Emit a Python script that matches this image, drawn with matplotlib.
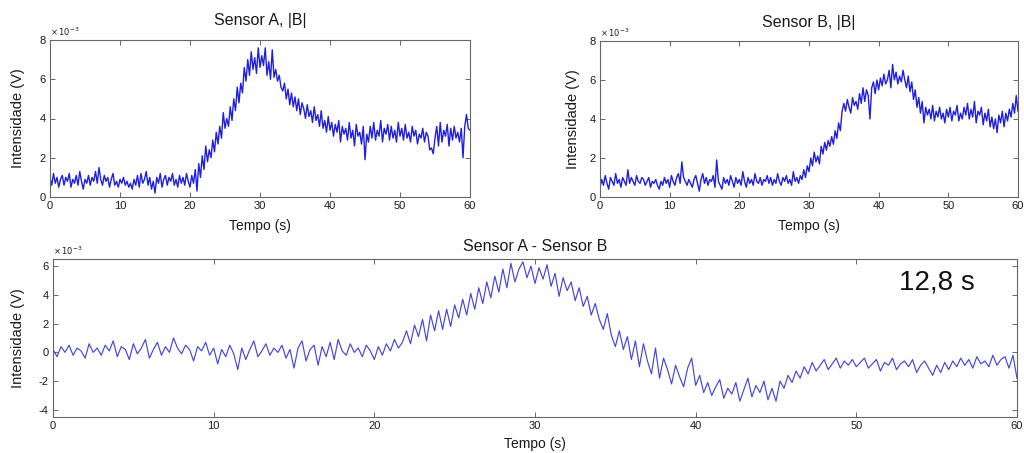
import numpy as np
import matplotlib
matplotlib.use("Agg")
import matplotlib.pyplot as plt

plt.rcParams['font.family'] = ['Liberation Sans', 'DejaVu Sans']
plt.rcParams['axes.unicode_minus'] = False

# time axis (s), step 0.25 s
t = np.arange(0, 241) * 0.25

# Sensor A |B| (x 1e-3 V)
sensor_a = [
    1.0,0.6,1.2,0.7,1.0,0.5,0.9,1.1,0.6,1.0,0.8,1.2,0.5,0.9,0.7,1.1,0.6,1.3,0.8,0.4,
    0.9,0.7,1.1,0.6,1.0,0.8,1.3,0.7,1.5,0.9,0.6,1.1,0.8,1.0,0.5,0.9,1.2,0.6,0.8,0.5,
    0.9,0.7,1.0,0.6,0.8,0.5,0.7,0.4,0.9,0.6,1.1,0.5,1.2,0.7,0.9,1.3,0.6,1.0,0.4,0.8,
    0.2,1.0,0.7,1.2,0.5,0.9,1.1,0.6,1.0,0.8,1.2,0.6,0.9,0.5,1.1,0.7,1.0,0.6,1.2,0.8,
    0.5,1.1,0.7,1.4,0.3,1.7,1.0,2.1,1.4,2.6,1.8,2.4,2.0,2.9,2.3,3.3,2.7,3.6,3.0,4.3,
    3.5,4.0,3.6,4.6,3.9,5.0,4.4,5.6,4.8,5.8,5.3,6.6,5.9,7.0,6.2,7.4,6.5,7.1,6.3,7.6,
    6.6,7.2,6.7,7.6,6.2,6.9,6.0,7.5,6.1,6.5,5.9,6.2,5.6,5.4,5.8,5.0,5.5,4.7,5.3,4.6,
    5.1,4.4,5.0,4.2,4.8,4.5,4.0,4.7,4.1,4.4,3.8,4.6,3.9,4.2,3.6,4.4,3.5,3.9,3.3,4.1,
    3.4,3.8,3.1,3.7,3.3,3.9,2.8,3.6,3.2,3.5,2.9,3.8,3.0,3.4,2.6,3.7,3.1,3.3,2.7,3.6,
    1.9,3.2,2.8,3.6,3.0,3.8,2.9,3.4,3.1,3.9,2.8,3.5,3.2,3.7,2.9,3.6,3.0,3.4,2.8,3.8,
    3.1,3.5,2.9,3.7,3.0,3.3,2.8,3.6,3.1,3.4,2.7,3.2,3.0,3.5,2.8,3.3,3.1,2.4,2.5,2.2,
    3.0,3.6,2.6,3.8,2.8,3.4,3.1,3.7,2.6,3.5,2.9,3.6,3.0,3.3,2.8,3.5,2.0,3.6,4.2,3.5,
    3.4,
]

# Sensor B |B| (x 1e-3 V)
sensor_b = [
    0.5,0.9,0.6,1.1,0.7,0.4,1.0,0.8,0.6,1.2,0.7,0.9,0.5,1.0,0.8,0.6,1.4,0.7,1.0,0.8,
    0.6,1.1,0.8,0.7,1.0,0.9,0.6,0.8,1.0,0.5,0.8,0.7,0.9,0.6,0.4,0.8,0.6,1.0,0.7,0.9,
    0.5,1.1,0.8,0.6,1.0,1.2,0.7,1.8,1.0,0.8,0.6,0.9,0.7,0.5,0.9,1.1,0.7,0.3,0.9,1.2,
    0.7,1.0,0.6,0.9,0.8,1.1,0.5,1.9,0.8,0.6,0.4,1.0,0.7,0.9,0.6,1.1,0.8,0.5,1.0,0.7,
    0.9,0.6,1.3,0.8,0.5,1.0,0.7,0.9,0.6,1.2,0.8,0.7,1.0,0.6,0.9,0.8,1.1,0.7,1.0,0.6,
    0.9,0.7,1.2,0.8,0.6,1.0,0.8,1.1,0.7,0.9,0.6,1.3,0.8,1.0,0.7,1.1,0.9,1.4,1.0,1.6,
    1.3,2.0,1.6,2.3,1.8,2.1,1.7,2.6,2.2,2.8,2.4,2.9,2.6,3.1,2.7,3.4,3.0,3.8,3.4,4.4,
    4.8,4.4,5.0,4.6,4.3,5.1,4.7,4.9,4.5,5.3,4.8,5.6,4.9,5.5,5.2,4.0,5.6,5.9,5.3,6.0,
    5.5,6.1,5.7,6.3,5.8,6.0,6.5,5.6,6.8,6.0,6.4,5.8,6.2,5.9,6.5,6.0,5.6,6.2,5.4,5.9,
    5.0,5.5,4.6,5.1,4.3,4.9,3.8,4.6,4.2,4.5,4.0,4.7,3.9,4.4,4.1,4.6,4.0,4.3,3.8,4.5,
    4.1,4.6,3.9,4.4,4.2,4.7,3.9,4.3,4.0,4.6,4.2,4.8,4.0,4.5,4.1,4.9,3.8,4.4,4.2,4.6,
    3.7,4.3,3.9,4.5,3.6,4.1,3.5,4.0,3.3,4.2,3.8,4.4,3.6,4.3,3.9,4.5,4.1,4.8,4.3,5.2,
    4.4,
]

# Sensor A - Sensor B (x 1e-3 V)
diff_ab = [
    0.2,-0.3,0.4,0.0,0.5,-0.2,0.3,0.1,-0.4,0.6,0.0,0.3,-0.2,0.5,0.1,0.8,-0.3,0.4,0.2,-0.5,
    0.6,-0.1,0.3,0.9,-0.4,0.2,0.7,-0.2,0.4,0.0,1.0,0.3,-0.1,0.5,0.2,-0.6,0.4,0.1,0.7,-0.2,
    0.3,-0.8,0.2,-0.3,0.5,-0.1,-1.2,0.3,-0.5,0.2,0.8,-0.3,0.1,0.6,-0.2,0.3,0.0,0.5,-0.4,0.2,
    -1.1,0.3,0.8,-0.6,0.2,0.5,-0.9,0.4,-0.3,0.7,-0.5,0.9,0.1,-0.2,0.6,0.0,0.3,-0.3,0.5,0.1,
    -0.5,0.4,-0.2,0.6,0.1,0.9,0.3,0.7,1.5,0.6,1.9,1.1,2.3,0.8,2.6,1.5,2.9,1.6,3.0,1.8,
    3.3,2.4,3.7,2.6,4.1,3.0,4.5,3.4,4.9,3.8,5.3,4.2,5.8,4.5,6.2,4.9,5.8,6.3,5.2,6.0,
    4.8,5.9,5.1,6.1,4.6,5.5,3.9,5.2,4.3,4.9,3.6,4.5,3.2,3.9,2.6,3.4,2.3,1.6,2.7,1.2,
    0.4,1.5,0.2,1.1,-0.5,0.8,-1.0,0.6,-0.6,-1.5,0.3,-1.8,-0.4,-1.2,-2.2,-0.9,-1.7,-2.4,-1.1,-0.4,
    -2.3,-1.6,-2.8,-2.1,-3.0,-2.4,-1.9,-3.2,-2.5,-2.9,-2.1,-3.4,-2.6,-1.8,-3.1,-2.3,-2.8,-2.0,-3.3,-2.5,
    -3.4,-2.0,-2.5,-1.6,-2.1,-1.3,-1.8,-1.0,-1.5,-0.7,-1.3,-0.9,-0.5,-1.2,-0.8,-0.4,-1.1,-0.6,-0.9,-0.5,
    -1.0,-0.7,-0.4,-1.1,-0.8,-0.5,-1.3,-0.7,-0.9,-0.4,-1.2,-0.8,-0.6,-1.0,-0.5,-1.4,-0.9,-0.6,-1.1,-1.6,
    -0.9,-1.4,-0.7,-1.2,-0.6,-1.0,-0.4,-0.9,-0.5,-1.1,-0.3,-0.8,-0.6,-1.0,-0.2,-0.9,-0.5,-0.3,-1.1,-0.2,
    -1.8,
]

titles = ["Sensor A, |B|", "Sensor B, |B|", "Sensor A - Sensor B"]
xlabel = "Tempo (s)"
ylabel = "Intensidade (V)"
xticks = [0, 10, 20, 30, 40, 50, 60]
yticks_top = [0, 2, 4, 6, 8]
yticks_bot = [-4, -2, 0, 2, 4, 6]
annotation = "12,8 s"

W, H = 1024, 453
fig = plt.figure(figsize=(W / 100, H / 100), dpi=100)

def rect(l, r, t_, b):
    return [l / W, 1 - b / H, (r - l) / W, (b - t_) / H]

txt_col = '#1a1a1a'
frame_col = '#666666'

def style(ax, yticks, ylim, xlabel_y, ylabel_x):
    ax.set_xlim(0, 60)
    ax.set_ylim(*ylim)
    ax.set_xticks(xticks)
    ax.set_yticks(yticks)
    ax.tick_params(direction='in', length=3.5, width=0.7, colors=frame_col,
                   labelcolor=txt_col, labelsize=8, top=True, right=True, pad=3)
    for s in ax.spines.values():
        s.set_color(frame_col)
        s.set_linewidth(0.8)
    ax.set_xlabel(xlabel, fontsize=10, color=txt_col)
    ax.set_ylabel(ylabel, fontsize=10.5, color=txt_col)
    ax.xaxis.set_label_coords(0.5, xlabel_y)
    ax.yaxis.set_label_coords(ylabel_x, 0.5)
    ax.text(0.0, 1.015, r'$\times\,10^{-3}$', transform=ax.transAxes, fontsize=6,
            color=txt_col, ha='left', va='bottom')

line_col = '#1f1fdc'

ax1 = fig.add_axes(rect(50, 470, 40, 197))
ax1.plot(t, sensor_a, color=line_col, lw=1.0)
style(ax1, yticks_top, (0, 8), -0.14, -0.06)
ax1.set_title(titles[0], fontsize=11.5, color=txt_col, pad=11)

ax2 = fig.add_axes(rect(600, 1018, 41, 197))
ax2.plot(t, sensor_b, color=line_col, lw=1.0)
style(ax2, yticks_top, (0, 8), -0.14, -0.048)
ax2.set_title(titles[1], fontsize=11.5, color=txt_col, pad=10)

ax3 = fig.add_axes(rect(53, 1017, 259, 417))
ax3.plot(t, diff_ab, color='#4646d8', lw=0.85)
style(ax3, yticks_bot, (-4.5, 6.5), -0.127, -0.029)
ax3.set_title(titles[2], fontsize=11.5, color=txt_col, pad=6)
ax3.text(0.917, 0.85, annotation, transform=ax3.transAxes, fontsize=20,
         color='#111111', ha='center', va='center')

fig.savefig("out.png", dpi=100)
